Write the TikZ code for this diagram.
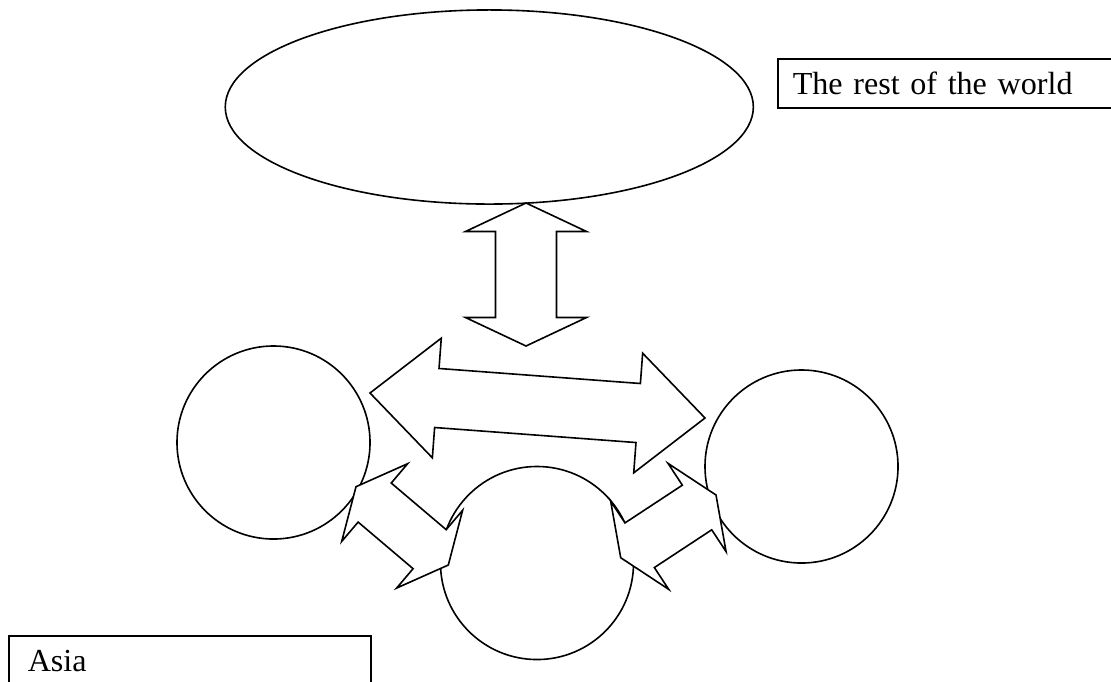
\documentclass[tikz,border=0pt]{standalone}
\usepackage{fontspec}
\setmainfont{Liberation Serif}
\usetikzlibrary{
  calc,
  shapes.geometric
}
\tikzset{
  outline/.style={line width=0.6pt},
  region/.style={outline, draw, circle, minimum size=72.2pt, inner sep=0pt},
  globe/.style={outline, draw, ellipse, minimum width=197.5pt, minimum height=72.6pt, inner sep=0pt},
  labelbox/.style={
    draw, line width=0.8pt, anchor=north west,
    minimum height=18.3pt, inner ysep=0pt,
    align=left, font=\fontsize{12}{14}\selectfont
  },
  blockarrow/.style={outline, draw, fill=white, line join=miter},
}

\begin{document}
\begin{tikzpicture}[x=0.374pt, y=-0.374pt]

\clip (0,0) rectangle (1111,681);

% the world and the three regions
\node[globe] (rest) at (489.3,107) {};
\node[region] (regionA) at (273.5,442.5) {};
\node[region] (regionB) at (801.5,466.5) {};
\node[region] (regionC) at (537,563) {};

% label boxes (cut by the page edge)
\node[labelbox, inner xsep=5.6pt, text width=123.4pt] (worldlabel) at (776.7,58.3) {The rest of the world};
\node[labelbox, inner xsep=6.9pt, text width=121.6pt] (asialabel) at (8.3,635) {Asia};

% tips of the block arrows
\coordinate (vtop) at (526,203);
\coordinate (vbot) at (526,346);
\coordinate (hleft) at (370,393);
\coordinate (hright) at (705,418);
\coordinate (lupper) at (356,486.7);
\coordinate (llower) at (448.3,565);
\coordinate (rlower) at (620.7,557.7);
\coordinate (rupper) at (716,495);

% double block arrows: tip/tip/head length/head half width/shaft half width
\foreach \a/\b/\L/\H/\S in {vtop/vbot/10.66pt/22.63pt/11.41pt,
                             hleft/hright/25.06pt/22.44pt/11.07pt,
                             lupper/llower/9.16pt/19.07pt/9.57pt,
                             rlower/rupper/8.49pt/19.75pt/9.99pt}{
  \coordinate (p1) at ($(\a)!\L!(\b)$);
  \coordinate (p2) at ($(\b)!\L!(\a)$);
  \draw[blockarrow] (\a) -- ($(p1)!\H!90:(\b)$) -- ($(p1)!\S!90:(\b)$)
    -- ($(p2)!\S!-90:(\a)$) -- ($(p2)!\H!-90:(\a)$) -- (\b)
    -- ($(p2)!\H!90:(\a)$) -- ($(p2)!\S!90:(\a)$)
    -- ($(p1)!\S!-90:(\b)$) -- ($(p1)!\H!-90:(\b)$) -- cycle;
}

\end{tikzpicture}
\end{document}
